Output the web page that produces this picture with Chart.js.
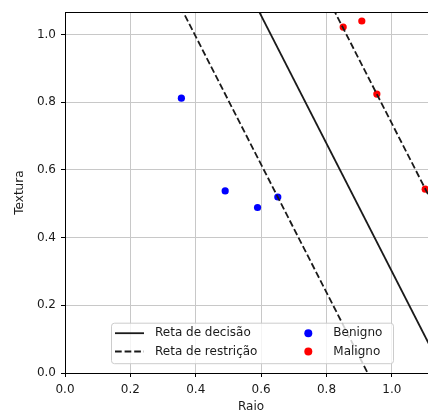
<!DOCTYPE html>
<html>
<head>
<meta charset="utf-8">
<script src="https://cdn.jsdelivr.net/npm/chart.js@4/dist/chart.umd.min.js"></script>
<style>
  html, body { margin: 0; background: #fff; overflow: hidden; }
  #wrap { width: 428px; height: 414px; overflow: hidden; }
  /* the plot area runs a little past the right edge, as in the cropped original */
  #svmChart { display: block; }
</style>
</head>
<body>
<div id="wrap"><canvas id="svmChart" width="441" height="414"></canvas></div>
<script>
// values
const benignoX = [0.356, 0.490, 0.589, 0.651];
const benignoY = [0.812, 0.538, 0.489, 0.520];
const malignoX = [0.851, 0.908, 0.954, 1.102];
const malignoY = [1.022, 1.040, 0.824, 0.543];

// line end points (extend past the axes, clipped by the chart area)
const decisaoX = [0.5, 1.2];
const decisaoY = [1.245, -0.078];
const restricaoBaixaX = [0.3, 1.0];
const restricaoBaixaY = [1.183, -0.140];
const restricaoAltaX = [0.7, 1.2];
const restricaoAltaY = [1.304, 0.359];

const xTicks = [0, 0.2, 0.4, 0.6, 0.8, 1.0];
const yTicks = [0, 0.2, 0.4, 0.6, 0.8, 1.0];
const xRange = [0, 1.138];
const yRange = [0, 1.066];

const FONT = "'DejaVu Sans', sans-serif";
const GRID = "#c8c8c8";
const toPoints = (xs, ys) => xs.map((x, i) => ({ x: x, y: ys[i] }));

const lineStyle = {
  showLine: true,
  pointRadius: 0,
  borderColor: "#1a1a1a",
  borderWidth: 1.8,
  order: 0
};

// matplotlib-like legend drawn inside the plot
const boxLegend = {
  id: "boxLegend",
  afterDatasetsDraw(chart) {
    const ctx = chart.ctx;
    const a = chart.chartArea;
    const left = a.left + 46, top = 322.7, w = 282, h = 40.5;
    ctx.save();
    ctx.beginPath();
    ctx.roundRect(left + 0.5, top + 0.5, w, h, 3);
    ctx.fillStyle = "rgba(255,255,255,0.8)";
    ctx.fill();
    ctx.strokeStyle = "#cccccc";
    ctx.lineWidth = 1;
    ctx.stroke();

    const ds = chart.data.datasets;
    const rows = [top + 10.5, top + 28.8];
    ctx.font = "12px " + FONT;
    ctx.fillStyle = "#1a1a1a";
    ctx.textBaseline = "middle";
    ctx.textAlign = "left";

    // column 1: lines
    [ds[2], ds[3]].forEach((d, i) => {
      ctx.beginPath();
      ctx.setLineDash(d.borderDash || []);
      ctx.strokeStyle = d.borderColor;
      ctx.lineWidth = d.borderWidth;
      ctx.moveTo(left + 4, rows[i]);
      ctx.lineTo(left + 33, rows[i]);
      ctx.stroke();
      ctx.setLineDash([]);
      ctx.fillText(d.label, left + 44, rows[i]);
    });
    // column 2: markers
    [ds[0], ds[1]].forEach((d, i) => {
      ctx.beginPath();
      ctx.arc(left + 197.3, rows[i], 4, 0, Math.PI * 2);
      ctx.fillStyle = d.backgroundColor;
      ctx.fill();
      ctx.fillStyle = "#1a1a1a";
      ctx.fillText(d.label, left + 222.3, rows[i]);
    });
    ctx.restore();
  },
  afterDraw(chart) {
    const ctx = chart.ctx;
    const a = chart.chartArea;
    ctx.save();
    ctx.strokeStyle = "#000";
    ctx.lineWidth = 1;
    ctx.beginPath();
    ctx.moveTo(a.left, Math.round(a.top) + 0.5);
    ctx.lineTo(a.right, Math.round(a.top) + 0.5);
    ctx.stroke();
    ctx.restore();
  }
};

new Chart(document.getElementById("svmChart"), {
  type: "scatter",
  data: {
    datasets: [
      {
        label: "Benigno",
        data: toPoints(benignoX, benignoY),
        backgroundColor: "#0000ff",
        borderWidth: 0,
        pointRadius: 3.6,
        order: 1
      },
      {
        label: "Maligno",
        data: toPoints(malignoX, malignoY),
        backgroundColor: "#ff0000",
        borderWidth: 0,
        pointRadius: 3.6,
        order: 1
      },
      Object.assign({ label: "Reta de decisão", data: toPoints(decisaoX, decisaoY) }, lineStyle),
      Object.assign({ label: "Reta de restrição", data: toPoints(restricaoBaixaX, restricaoBaixaY), borderDash: [6.7, 2.9] }, lineStyle),
      Object.assign({ label: "", data: toPoints(restricaoAltaX, restricaoAltaY), borderDash: [6.7, 2.9] }, lineStyle)
    ]
  },
  options: {
    responsive: false,
    animation: false,
    layout: { padding: { top: 11, left: 0, right: 0, bottom: 0 } },
    plugins: {
      legend: { display: false },
      tooltip: { enabled: false }
    },
    scales: {
      x: {
        type: "linear",
        min: xRange[0],
        max: xRange[1],
        afterBuildTicks: s => { s.ticks = xTicks.map(v => ({ value: v })); },
        afterFit: s => { s.height = 41; },
        ticks: {
          font: { family: FONT, size: 12 },
          color: "#1a1a1a",
          padding: 6,
          maxRotation: 0,
          callback: v => v.toFixed(1)
        },
        grid: { color: GRID, lineWidth: 1, tickLength: 4, tickColor: "#000" },
        border: { color: "#000", width: 1 },
        title: {
          display: true,
          text: "Raio",
          font: { family: FONT, size: 12 },
          color: "#1a1a1a",
          padding: { top: 2, bottom: 0 }
        }
      },
      y: {
        type: "linear",
        min: yRange[0],
        max: yRange[1],
        afterBuildTicks: s => { s.ticks = yTicks.map(v => ({ value: v })); },
        afterFit: s => { s.width = 65; },
        ticks: {
          font: { family: FONT, size: 12 },
          color: "#1a1a1a",
          padding: 5,
          callback: v => v.toFixed(1)
        },
        grid: { color: GRID, lineWidth: 1, tickLength: 4, tickColor: "#000" },
        border: { color: "#000", width: 1 },
        title: {
          display: true,
          text: "Textura",
          font: { family: FONT, size: 12 },
          color: "#1a1a1a",
          padding: { top: 13, bottom: 0 }
        }
      }
    }
  },
  plugins: [boxLegend]
});
</script>
</body>
</html>
